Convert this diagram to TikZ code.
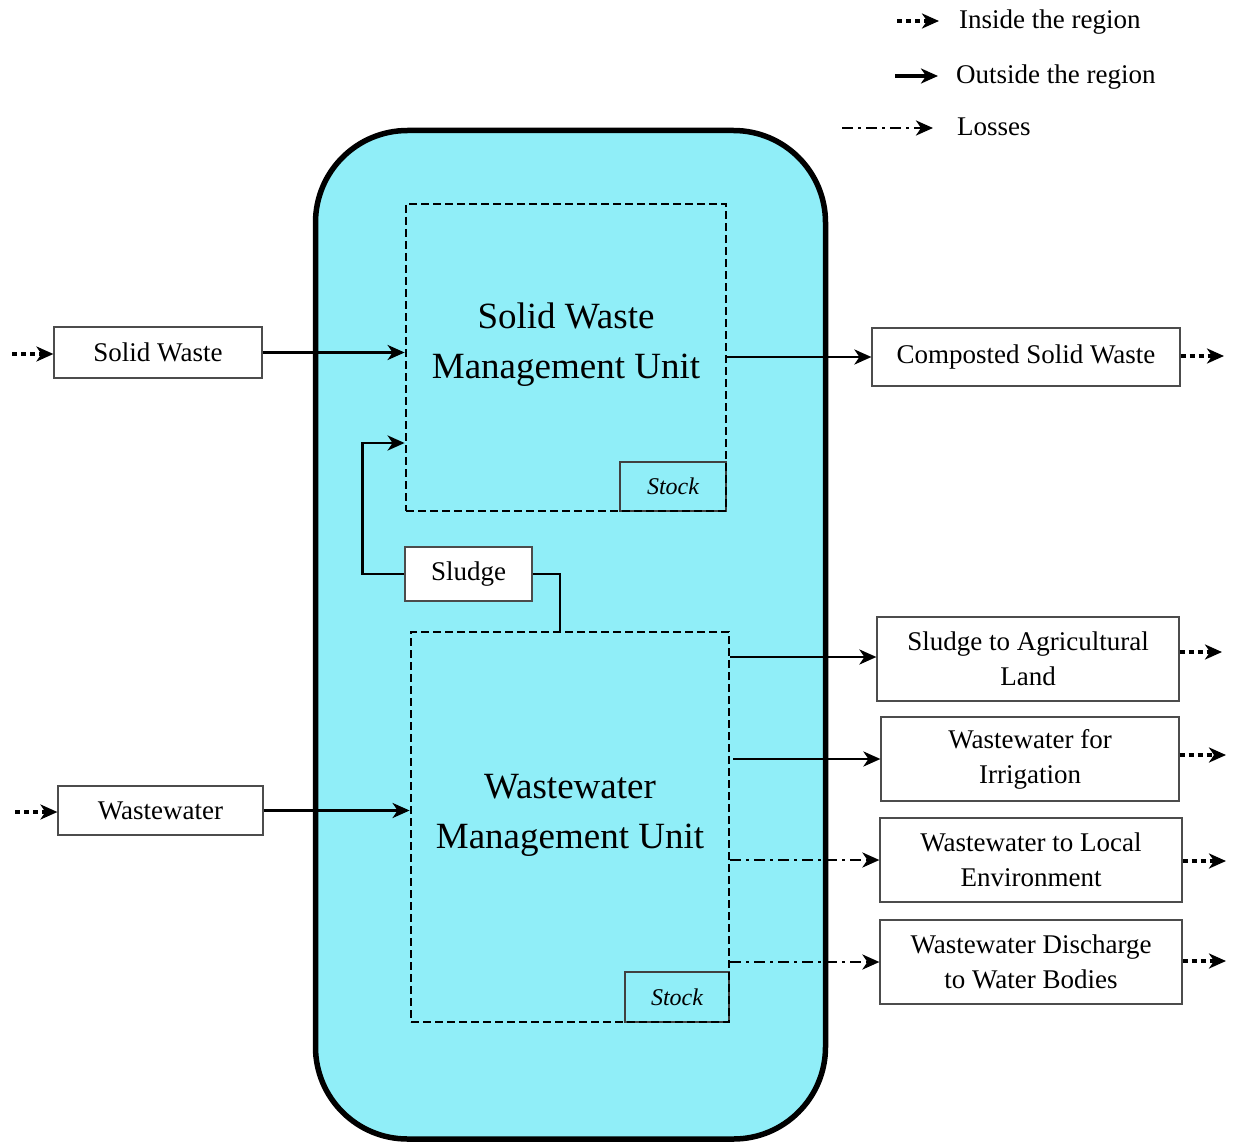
\documentclass[tikz,border=0pt]{standalone}
\usepackage{fontspec}
\setmainfont{Liberation Serif}
\usetikzlibrary{arrows.meta}
\definecolor{regionfill}{RGB}{144,238,248}
\begin{document}
\begin{tikzpicture}[x=1pt,y=-1pt,
  txt/.style={font=\fontsize{27}{35}\selectfont, align=center},
  bigtxt/.style={font=\fontsize{37}{50}\selectfont, align=center},
  flowbox/.style={draw=black!70, line width=1.2pt, fill=white, txt, inner sep=0pt},
  unitbox/.style={draw=black, line width=2.8pt, dash pattern=on 8pt off 4pt, inner sep=0pt},
  stockbox/.style={draw=black!75, line width=1.2pt, inner sep=0pt,
    font=\fontsize{24}{28}\selectfont\itshape},
  tip/.style={-{Stealth[length=17pt,width=15pt,inset=5pt]}},
  flow/.style={tip, line width=2.8pt},
  inside/.style={tip, line width=4.5pt, dash pattern=on 5pt off 4pt},
  loss/.style={tip, line width=2.8pt, dash pattern=on 11pt off 5pt on 3pt off 5pt}
]
\useasboundingbox (0,0) rectangle (1236,1142);

% region outline
\draw[line width=5.5pt, fill=regionfill, rounded corners=92pt]
  (315.5,130.5) rectangle (825.5,1139);

% stock boxes (drawn first so the unit outlines stay on top)
\node[stockbox, minimum width=106, minimum height=49] (stock1) at (673,486.5) {Stock};
\node[stockbox, minimum width=104, minimum height=50] (stock2) at (677,997) {Stock};

% management units
\node[unitbox, minimum width=320, minimum height=307] (swmu) at (566,357.5) {};
\node[bigtxt] (swmutext) at (566,345) {Solid Waste\\Management Unit};

\node[unitbox, minimum width=318, minimum height=390] (wwmu) at (570,827) {};
\node[bigtxt] (wwmutext) at (570,815) {Wastewater\\Management Unit};

\node[flowbox, minimum width=127, minimum height=54] (sludge) at (468.5,574) {Sludge};

% inputs
\node[flowbox, minimum width=208, minimum height=51] (sw) at (158,352.5) {Solid Waste};
\node[flowbox, minimum width=205, minimum height=49] (ww) at (160.5,810.5) {Wastewater};

% outputs
\node[flowbox, minimum width=308, minimum height=58] (csw) at (1026,357) {Composted Solid Waste};
\node[flowbox, minimum width=302, minimum height=84] (sal) at (1028,659) {Sludge to Agricultural\\Land};
\node[flowbox, minimum width=298, minimum height=84] (wfi) at (1030,759) {Wastewater for\\Irrigation};
\node[flowbox, minimum width=302, minimum height=84] (wle) at (1031,860) {Wastewater to Local\\Environment};
\node[flowbox, minimum width=302, minimum height=84] (wdb) at (1031,962) {Wastewater Discharge\\to Water Bodies};

% free ends of the regional flows
\coordinate (swin) at (12,354);
\coordinate (wwin) at (15,812);
\coordinate (cswout) at (1224,356);
\coordinate (salout) at (1222,652);
\coordinate (wfiout) at (1226,755);
\coordinate (wleout) at (1226,861);
\coordinate (wdbout) at (1226,961);

% flows into the units
\draw[flow] (sw.east) -- (sw.east -| swmu.west);
\draw[flow] (ww.east) -- (ww.east -| wwmu.west);
\draw[flow] (sludge.west) -- ++(-42,0) |- ([yshift=-85.5pt]swmu.west);
\draw[line width=2.8pt] (sludge.east) -| ([xshift=-10pt]wwmu.north);

% flows out of the units
\draw[flow] (swmu.east |- csw.west) -- (csw.west);
\draw[flow] ([yshift=2pt]wwmu.east |- sal.west) -- ([yshift=2pt]sal.west);
\draw[flow] ([xshift=3pt]wwmu.east |- wfi.west) -- (wfi.west);
\draw[loss] (wwmu.east |- wle.west) -- (wle.west);
\draw[loss] (wwmu.east |- wdb.west) -- (wdb.west);

% flows within the region
\draw[inside] (swin) -- (swin -| sw.west);
\draw[inside] (wwin) -- (wwin -| ww.west);
\draw[inside] (cswout -| csw.east) -- (cswout);
\draw[inside] (salout -| sal.east) -- (salout);
\draw[inside] (wfiout -| wfi.east) -- (wfiout);
\draw[inside] (wleout -| wle.east) -- (wleout);
\draw[inside] (wdbout -| wdb.east) -- (wdbout);

% legend
\coordinate (l1a) at (897,21);  \coordinate (l1b) at (939,21);
\coordinate (l2a) at (895,76);  \coordinate (l2b) at (938,76);
\coordinate (l3a) at (842,128); \coordinate (l3b) at (933,128);
\draw[inside] (l1a) -- (l1b);
\draw[flow, line width=4.5pt] (l2a) -- (l2b);
\draw[loss] (l3a) -- (l3b);
\node[txt, anchor=base west, inner sep=0pt] (leg1) at (959,29) {Inside the region};
\node[txt, anchor=base west, inner sep=0pt] (leg2) at (956,84) {Outside the region};
\node[txt, anchor=base west, inner sep=0pt] (leg3) at (957,136) {Losses};
\end{tikzpicture}
\end{document}
